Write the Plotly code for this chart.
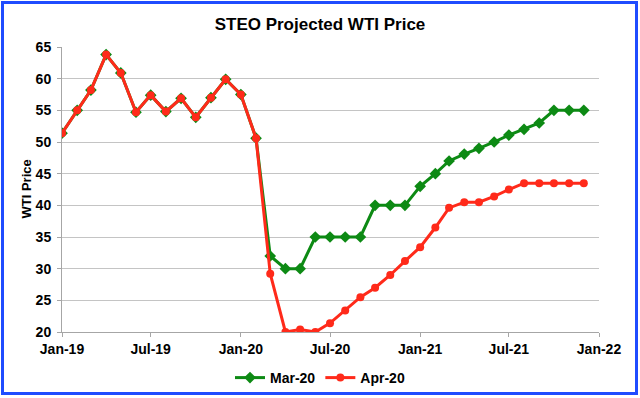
import pandas as pd
import plotly.graph_objects as go

months = pd.date_range("2019-01-01", "2021-12-01", freq="MS")

history = [51.4, 55.0, 58.2, 63.8, 60.9, 54.7, 57.4, 54.8, 56.9, 53.9, 57.0, 59.9, 57.5, 50.6]

mar20_forecast = [32.0, 30.0, 30.0, 35.0, 35.0, 35.0, 35.0, 40.0, 40.0, 40.0,
                  43.0, 45.0, 47.0, 48.1, 49.0, 50.0, 51.1, 52.0, 53.0, 55.0, 55.0, 55.0]
apr20_forecast = [29.2, 20.0, 20.4, 20.0, 21.4, 23.4, 25.5, 27.0, 29.0, 31.2,
                  33.4, 36.5, 39.6, 40.5, 40.5, 41.4, 42.5, 43.5, 43.5, 43.5, 43.5, 43.5]

mar20 = history + mar20_forecast
apr20 = history + apr20_forecast

tick_vals = ["2019-01-01", "2019-07-01", "2020-01-01", "2020-07-01",
             "2021-01-01", "2021-07-01", "2022-01-01"]
tick_text = ["Jan-19", "Jul-19", "Jan-20", "Jul-20", "Jan-21", "Jul-21", "Jan-22"]

GREEN = "#0d8a14"
RED = "#ff2a1a"
FONT = "Liberation Sans, Arial, sans-serif"

L, T, PW, PH = 62, 47, 537, 285  # plot area in pixels

fig = go.Figure()
fig.add_trace(go.Scatter(
    x=months, y=mar20, name="Mar-20", mode="lines+markers",
    line=dict(color=GREEN, width=3),
    marker=dict(symbol="diamond", size=9, color=GREEN),
))
fig.add_trace(go.Scatter(
    x=months, y=apr20, name="Apr-20", mode="lines+markers",
    line=dict(color=RED, width=3),
    marker=dict(symbol="circle", size=8, color=RED),
))

fig.update_layout(
    width=640, height=398,
    margin=dict(l=L, r=640 - L - PW, t=T, b=398 - T - PH, autoexpand=False),
    paper_bgcolor="white", plot_bgcolor="white",
    font=dict(family=FONT, size=14, color="black"),
    title=dict(text="<b>STEO Projected WTI Price</b>", x=0.5, xref="container",
               xanchor="center", y=1 - 24 / 398, yref="container", yanchor="middle",
               font=dict(size=17, family=FONT, color="black")),
    showlegend=True,
    legend=dict(orientation="h", x=(320 - L) / PW, xref="paper", xanchor="center",
                y=(T + PH - 378) / PH, yref="paper", yanchor="middle",
                font=dict(size=14, family=FONT, color="black", weight="bold"),
                itemwidth=30, bgcolor="rgba(0,0,0,0)"),
    xaxis=dict(
        range=["2019-01-01", "2022-01-01"], tickvals=tick_vals, ticktext=tick_text,
        showgrid=False, showline=True, linecolor="#a6a6a6", linewidth=1,
        ticks="outside", ticklen=4, tickcolor="#a6a6a6",
        tickfont=dict(size=14, family=FONT, color="black", weight="bold"),
        zeroline=False,
    ),
    yaxis=dict(
        range=[20, 65], dtick=5, tick0=20,
        showgrid=True, gridcolor="#c4c4c4", gridwidth=1,
        showline=True, linecolor="#a6a6a6", linewidth=1,
        ticks="outside", ticklen=4, tickcolor="#a6a6a6",
        tickfont=dict(size=14, family=FONT, color="black", weight="bold"),
        ticklabelstandoff=3, zeroline=False,
    ),
    annotations=[dict(
        text="<b>WTI Price</b>", textangle=-90, showarrow=False,
        xref="paper", yref="paper", x=(26 - L) / PW, y=0.5,
        xanchor="center", yanchor="middle",
        font=dict(size=13, family=FONT, color="black"),
    )],
    shapes=[dict(
        type="rect", xref="paper", yref="paper",
        x0=(2.5 - L) / PW, x1=(636.5 - L) / PW,
        y0=1 + (T - 393.5) / PH, y1=1 + (T - 2.5) / PH,
        line=dict(color="#1f4cff", width=3), fillcolor="rgba(0,0,0,0)", layer="above",
    )],
)

fig.write_html("out.html", config={"displayModeBar": False},
               post_script="document.body.style.margin='0';document.body.style.overflow='hidden';")
